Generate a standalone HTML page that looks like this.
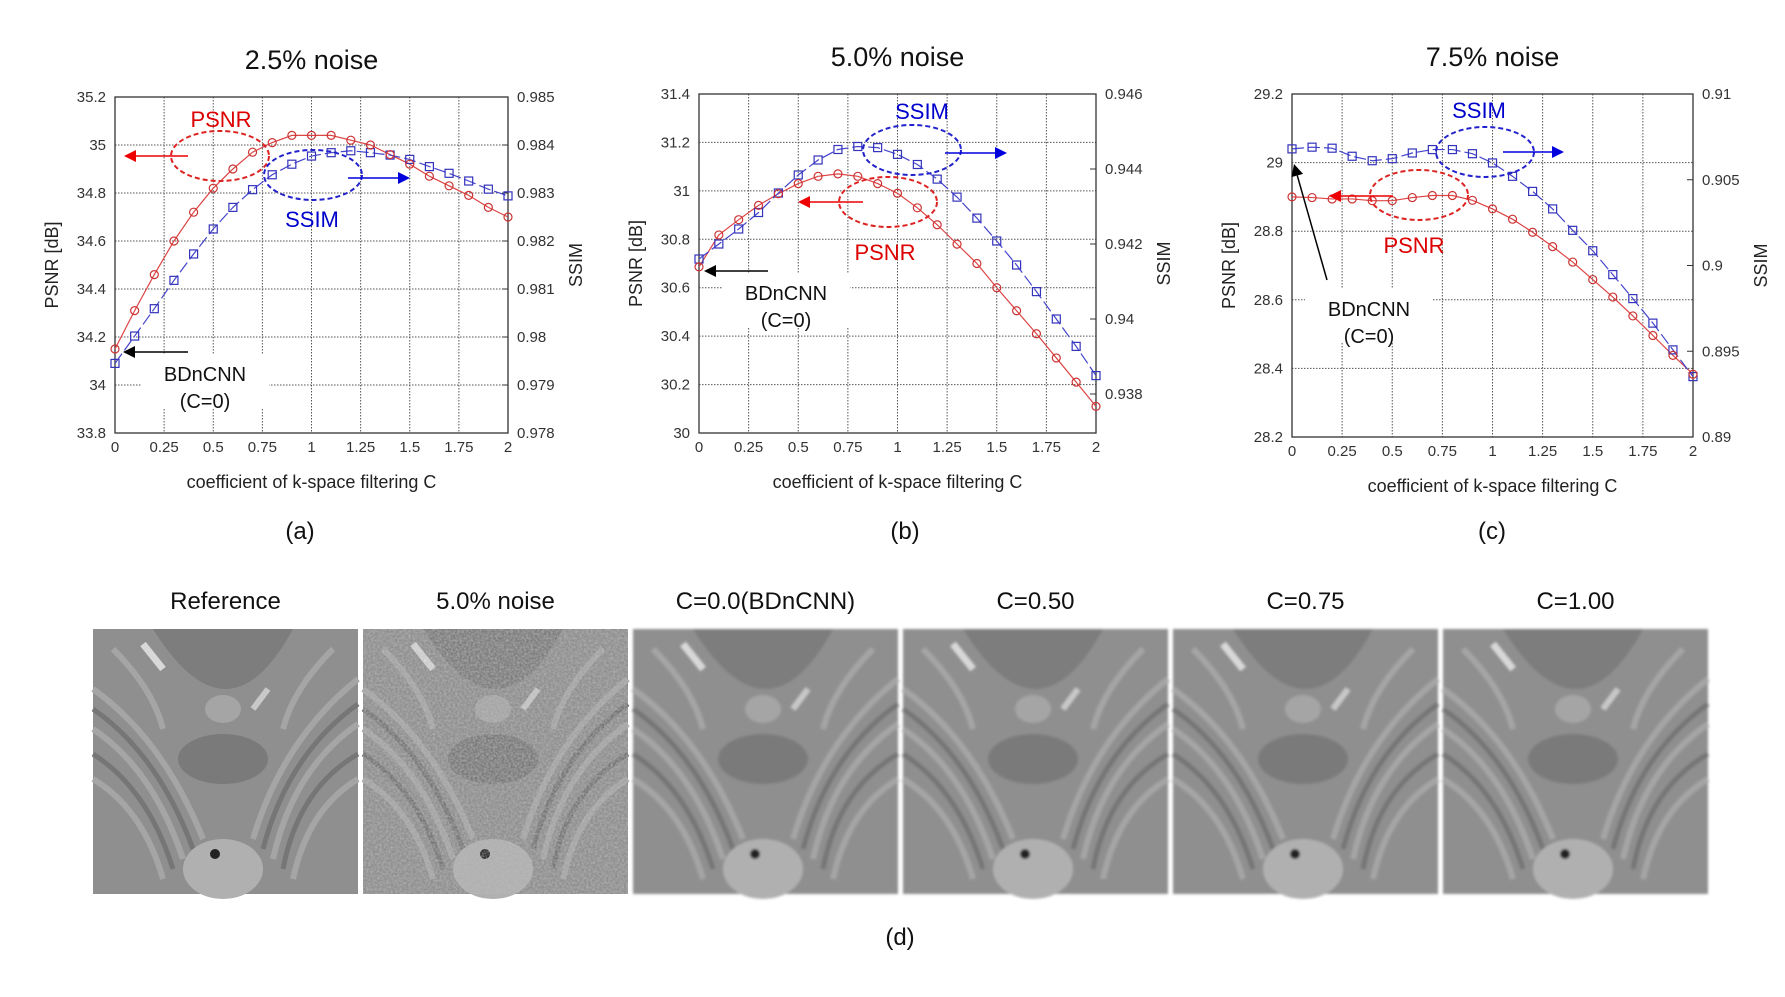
<!DOCTYPE html>
<html><head><meta charset="utf-8">
<style>
html,body{margin:0;padding:0;background:#fff;}
body{width:1785px;height:992px;position:relative;overflow:hidden;font-family:"Liberation Sans",sans-serif;}
svg text{font-family:"Liberation Sans",sans-serif;}
.lbl{position:absolute;font-size:24px;color:#111;text-align:center;transform:translateX(-50%);white-space:nowrap;}
</style></head>
<body>
<svg id="fig" width="1785" height="992" viewBox="0 0 1785 992" xmlns="http://www.w3.org/2000/svg">
<defs>
  <filter id="noise" x="0" y="0" width="100%" height="100%">
    <feTurbulence type="fractalNoise" baseFrequency="0.45" numOctaves="2" seed="3"/>
    <feColorMatrix type="matrix" values="0 0 0 0 0.5  0 0 0 0 0.5  0 0 0 0 0.5  0 0 0 1.2 -0.35"/>
  </filter>
  <filter id="blur2"><feGaussianBlur stdDeviation="1.3"/></filter>
  <g id="mri">
    <rect x="0" y="0" width="265" height="265" fill="#8f8f8f"/>
    <path d="M60 0 Q135 120 200 0 Z" fill="#7d7d7d"/>
    <ellipse cx="130" cy="130" rx="45" ry="25" fill="#7a7a7a"/>
    <ellipse cx="130" cy="80" rx="18" ry="14" fill="#a5a5a5"/>
    <g fill="none" stroke="#a8a8a8" stroke-width="6" opacity="0.9">
      <path d="M0 60 Q70 110 110 210"/><path d="M0 100 Q60 140 90 230"/><path d="M0 150 Q50 180 70 250"/>
      <path d="M265 50 Q190 110 160 210"/><path d="M265 95 Q200 140 180 230"/><path d="M265 150 Q215 180 200 250"/>
      <path d="M20 20 Q60 60 70 100"/><path d="M240 20 Q200 60 190 100"/>
    </g>
    <g fill="none" stroke="#767676" stroke-width="5">
      <path d="M0 80 Q65 125 100 220"/><path d="M0 125 Q55 160 80 240"/>
      <path d="M265 75 Q195 125 170 220"/><path d="M265 125 Q205 160 190 240"/>
    </g>
    <ellipse cx="130" cy="240" rx="40" ry="30" fill="#b0b0b0"/>
    <circle cx="122" cy="225" r="5" fill="#222"/>
    <path d="M50 15 L70 40" stroke="#d8d8d8" stroke-width="7"/>
    <path d="M175 60 L160 80" stroke="#c8c8c8" stroke-width="6"/>
  </g>
</defs>
</svg>

<div class="lbl" style="left:300px;top:518px;">(a)</div>
<div class="lbl" style="left:905px;top:518px;">(b)</div>
<div class="lbl" style="left:1492px;top:518px;">(c)</div>
<div class="lbl" style="left:900px;top:924px;">(d)</div>

<script>
// ---- shared x data ----
const cVals = [0,0.1,0.2,0.3,0.4,0.5,0.6,0.7,0.8,0.9,1.0,1.1,1.2,1.3,1.4,1.5,1.6,1.7,1.8,1.9,2.0];
const xTicks = [0,0.25,0.5,0.75,1,1.25,1.5,1.75,2];
const xTickLabels = ["0","0.25","0.5","0.75","1","1.25","1.5","1.75","2"];
// ---- panel (a) 2.5% noise ----
const psnrA = [34.15,34.31,34.46,34.60,34.72,34.82,34.90,34.97,35.01,35.04,35.04,35.04,35.02,35.00,34.96,34.92,34.87,34.83,34.79,34.74,34.70];
const ssimA = [0.97945,0.98002,0.98059,0.98118,0.98173,0.98225,0.98270,0.98307,0.98338,0.98360,0.98377,0.98384,0.98388,0.98384,0.98379,0.98370,0.98355,0.98341,0.98325,0.98308,0.98294];
const psnrTicksA = [33.8,34,34.2,34.4,34.6,34.8,35,35.2];
const psnrTickLabelsA = ["33.8","34","34.2","34.4","34.6","34.8","35","35.2"];
const ssimTicksA = [0.978,0.979,0.98,0.981,0.982,0.983,0.984,0.985];
const ssimTickLabelsA = ["0.978","0.979","0.98","0.981","0.982","0.983","0.984","0.985"];
// ---- panel (b) 5.0% noise ----
const psnrB = [30.686,30.818,30.881,30.94,30.988,31.03,31.06,31.07,31.06,31.03,30.99,30.93,30.86,30.78,30.70,30.60,30.505,30.41,30.31,30.21,30.11];
const ssimB = [0.9416,0.9420,0.9424,0.94284,0.94336,0.94384,0.94424,0.94452,0.94460,0.94457,0.94439,0.94412,0.94373,0.94325,0.94269,0.94208,0.94144,0.94073,0.9400,0.93927,0.93849];
const psnrTicksB = [30,30.2,30.4,30.6,30.8,31,31.2,31.4];
const psnrTickLabelsB = ["30","30.2","30.4","30.6","30.8","31","31.2","31.4"];
const ssimTicksB = [0.938,0.94,0.942,0.944,0.946];
const ssimTickLabelsB = ["0.938","0.94","0.942","0.944","0.946"];
// ---- panel (c) 7.5% noise ----
const psnrC = [28.90,28.898,28.894,28.894,28.889,28.889,28.898,28.904,28.904,28.89,28.865,28.835,28.797,28.755,28.71,28.659,28.608,28.553,28.496,28.438,28.383];
const ssimC = [0.9068,0.9069,0.90684,0.90637,0.90611,0.90623,0.90656,0.90676,0.90676,0.90652,0.90598,0.9052,0.90432,0.9033,0.90205,0.90086,0.89947,0.89807,0.89664,0.89508,0.89352];
const psnrTicksC = [28.2,28.4,28.6,28.8,29,29.2];
const psnrTickLabelsC = ["28.2","28.4","28.6","28.8","29","29.2"];
const ssimTicksC = [0.89,0.895,0.9,0.905,0.91];
const ssimTickLabelsC = ["0.89","0.895","0.9","0.905","0.91"];
// ---- image strip ----
const imgTitles = ["Reference","5.0% noise","C=0.0(BDnCNN)","C=0.50","C=0.75","C=1.00"];

const NS = "http://www.w3.org/2000/svg";
const svg = document.getElementById('fig');
function mk(tag, attrs, parent){
  const e = document.createElementNS(NS, tag);
  for (const k in attrs) e.setAttribute(k, attrs[k]);
  (parent||svg).appendChild(e);
  return e;
}
function txt(s, attrs, parent){ const t = mk('text', attrs, parent); t.textContent = s; return t; }

function chart(p){
  const g = mk('g', {});
  
  
  const L=p.L,R=p.R,T=p.T,B=p.B;
  const xs = v => L + (v-0)/(2-0)*(R-L);
  const yl = v => B - (v-p.yl[0])/(p.yl[1]-p.yl[0])*(B-T);
  const yr = v => B - (v-p.yr[0])/(p.yr[1]-p.yr[0])*(B-T);
  const ti = txt(p.title, {x:(L+R)/2, y:T-28, 'text-anchor':'middle','font-size':27,fill:'#111'}, g);
  
  
  xTicks.forEach((v,i)=>{
    if(i>0 && i<xTicks.length-1){ const gl=mk('line',{x1:xs(v),x2:xs(v),y1:T,y2:B,stroke:'#555','stroke-width':1,'stroke-dasharray':'1.5 1.5'},g);
        }
    const t=txt(xTickLabels[i],{x:xs(v),y:B+19,'text-anchor':'middle','font-size':15,fill:'#333'},g);
     
  });
  p.ylTicks.forEach((v,i)=>{
    const y=yl(v);
    if(i>0 && i<p.ylTicks.length-1){ const gl=mk('line',{x1:L,x2:R,y1:y,y2:y,stroke:'#555','stroke-width':1,'stroke-dasharray':'1.5 1.5'},g);
        }
    const t=txt(p.ylLabels[i],{x:L-9,y:y+5,'text-anchor':'end','font-size':15,fill:'#333'},g);
     
  });
  p.yrTicks.forEach((v,i)=>{
    const y=yr(v);
    mk('line',{x1:R-6,x2:R,y1:y,y2:y,stroke:'#333','stroke-width':1},g);
    const t=txt(p.yrLabels[i],{x:R+9,y:y+5,'text-anchor':'start','font-size':15,fill:'#333'},g);
     
  });
  const fr=mk('rect',{x:L,y:T,width:R-L,height:B-T,fill:'none',stroke:'#333','stroke-width':1.3},g);
   
  const yt=txt('PSNR [dB]',{x:0,y:0,transform:`translate(${L-57},${(T+B)/2}) rotate(-90)`,'text-anchor':'middle','font-size':18,fill:'#222'},g);
   
  const yt2=txt('SSIM',{x:0,y:0,transform:`translate(${R+74},${(T+B)/2}) rotate(-90)`,'text-anchor':'middle','font-size':18,fill:'#222'},g);
   
  const xt=txt('coefficient of k-space filtering  C',{x:(L+R)/2,y:B+55,'text-anchor':'middle','font-size':18,fill:'#222'},g);
   
  const a=p.ann;
  function ell(c,col,nm){ const e=mk('ellipse',{cx:c[0],cy:c[1],rx:49,ry:25,fill:'none',stroke:col,'stroke-width':2,'stroke-dasharray':'5 3'},g);
      }
  function arrow(x1,y1,x2,y2,col,nm){
    const ang=Math.atan2(y2-y1,x2-x1), h=12, w=6;
    const bx=x2-h*Math.cos(ang), by=y2-h*Math.sin(ang);
    const ag=mk('g',{},g);  
    mk('line',{x1:x1,y1:y1,x2:bx,y2:by,stroke:col,'stroke-width':1.5},ag);
    mk('polygon',{points:`${x2},${y2} ${bx-w*Math.sin(ang)},${by+w*Math.cos(ang)} ${bx+w*Math.sin(ang)},${by-w*Math.cos(ang)}`,fill:col},ag);
  }
  const bg=mk('rect',{x:a.bd[0]-64,y:a.bd[1]-20,width:128,height:54,fill:'#fff'},g);
   
  const ptsP = cVals.map((c,i)=>[xs(c),yl(p.psnr[i])]);
  const ptsS = cVals.map((c,i)=>[xs(c),yr(p.ssim[i])]);
  const lp=mk('polyline',{points:ptsP.map(q=>q.join(',')).join(' '),fill:'none',stroke:'#d44','stroke-width':1.2},g);
   
  const ls=mk('polyline',{points:ptsS.map(q=>q.join(',')).join(' '),fill:'none',stroke:'#44c','stroke-width':1.2,'stroke-dasharray':'12 4'},g);
   
  ptsS.forEach(q=>{ const m=mk('rect',{x:q[0]-4,y:q[1]-4,width:8,height:8,fill:'none',stroke:'#33b','stroke-width':1.2},g);
      });
  ptsP.forEach(q=>{ const m=mk('circle',{cx:q[0],cy:q[1],r:4,fill:'none',stroke:'#c33','stroke-width':1.2},g);
      });
  ell(a.re,'#d22','psnr-ellipse'); ell(a.be,'#22c','ssim-ellipse');
  arrow(a.ra[0],a.ra[1],a.ra[2],a.ra[3],'#e00','psnr-axis-arrow');
  arrow(a.ba[0],a.ba[1],a.ba[2],a.ba[3],'#00d','ssim-axis-arrow');
  arrow(a.ka[0],a.ka[1],a.ka[2],a.ka[3],'#000','bdncnn-arrow');
  const pl=txt('PSNR',{x:a.pl[0],y:a.pl[1]+8,'text-anchor':'middle','font-size':22,fill:'#d00'},g);
   
  const sl=txt('SSIM',{x:a.sl[0],y:a.sl[1]+8,'text-anchor':'middle','font-size':22,fill:'#00c'},g);
   
  const b1=txt('BDnCNN',{x:a.bd[0],y:a.bd[1]+7,'text-anchor':'middle','font-size':20,fill:'#111'},g);
   
  const b2=txt('(C=0)',{x:a.bd[0],y:a.bd[1]+34,'text-anchor':'middle','font-size':20,fill:'#111'},g);
   
}

chart({name:'chart-2p5-noise',title:'2.5% noise',L:115,R:508,T:97,B:433,yl:[33.8,35.2],yr:[0.978,0.985],
  psnr:psnrA,ssim:ssimA,ylTicks:psnrTicksA,ylLabels:psnrTickLabelsA,yrTicks:ssimTicksA,yrLabels:ssimTickLabelsA,
  ann:{re:[220,156],be:[313,175],ra:[188,156,124,156],ba:[348,178,410,178],ka:[188,352,123,352],pl:[221,119],sl:[312,219],bd:[205,374]}});
chart({name:'chart-5p0-noise',title:'5.0% noise',L:699,R:1096,T:94,B:433,yl:[30,31.4],yr:[0.93696,0.946],
  psnr:psnrB,ssim:ssimB,ylTicks:psnrTicksB,ylLabels:psnrTickLabelsB,yrTicks:ssimTicksB,yrLabels:ssimTickLabelsB,
  ann:{re:[888,202],be:[912,150],ra:[863,202,798,202],ba:[945,153,1007,153],ka:[768,271,704,271],pl:[885,252],sl:[922,111],bd:[786,293]}});
chart({name:'chart-7p5-noise',title:'7.5% noise',L:1292,R:1693,T:94,B:437,yl:[28.2,29.2],yr:[0.89,0.91],
  psnr:psnrC,ssim:ssimC,ylTicks:psnrTicksC,ylLabels:psnrTickLabelsC,yrTicks:ssimTicksC,yrLabels:ssimTickLabelsC,
  ann:{re:[1419,195],be:[1485,152],ra:[1393,196,1329,196],ba:[1503,152,1564,152],ka:[1327,280,1294,164],pl:[1414,245],sl:[1479,110],bd:[1369,309]}});

const imgX0 = 93, imgW = 265, imgGap = 5, imgY = 629;
imgTitles.forEach((t,i)=>{
  const x = imgX0 + i*(imgW+imgGap);
  const ig = mk('g',{});
  
  
  const u = mk('use',{href:'#mri',x:x,y:imgY,filter: i===0||i===1 ? '' : 'url(#blur2)'},ig);
  if(i===1){ mk('rect',{x:x,y:imgY,width:imgW,height:imgW,filter:'url(#noise)'},ig); }
  const lt = txt(t,{x:x+imgW/2,y:imgY-20,'text-anchor':'middle','font-size':24,fill:'#111'});
  
  
});
</script>
</body></html>
